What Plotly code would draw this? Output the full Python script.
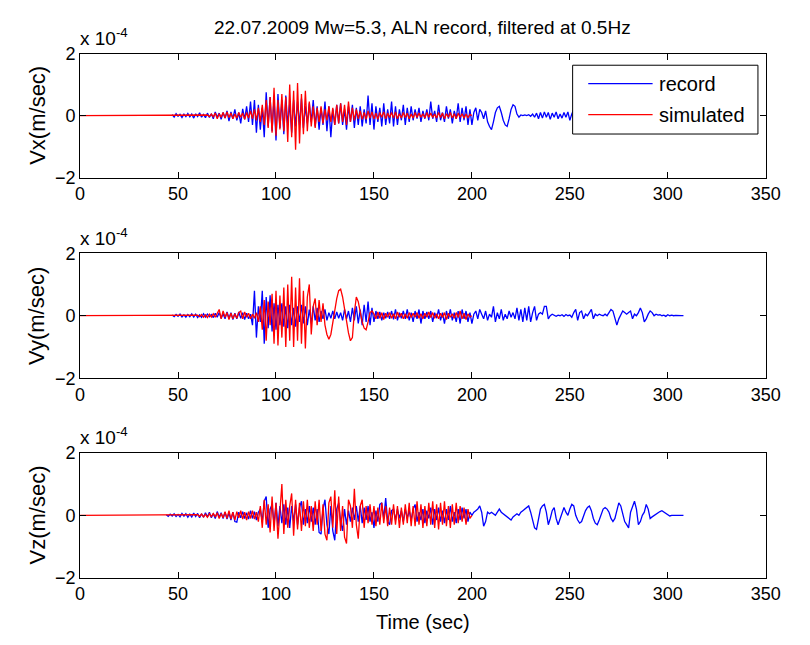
import numpy as np
import plotly.graph_objects as go

# ---------------- data (units of 1e-4 m/s), sampled every 1 s ----------------
dt = 1.0
ticks_x = [0, 50, 100, 150, 200, 250, 300, 350]
ticks_y = [-2, 0, 2]
panel_labels = ["Vx(m/sec)", "Vy(m/sec)", "Vz(m/sec)"]

vx_rec_t0 = 47
vx_rec = [0.03,-0.05,0.06,-0.02,0.04,-0.06,0.05,-0.03,0.07,-0.04,
          0.05,-0.08,0.06,-0.03,0.09,-0.05,0.04,-0.07,0.08,-0.06,
          0.06,-0.1,0.12,-0.05,0.08,-0.12,0.1,-0.08,0.15,-0.18,
          0.12,-0.1,0.2,-0.15,0.1,-0.25,0.22,-0.12,0.3,-0.2,
          0.45,-0.3,0.5,-0.55,0.35,-0.45,0.25,-0.7,0.75,-0.35,
          0.6,-0.5,0.55,-0.8,0.7,-0.4,0.5,-0.6,0.65,-0.3,
          0.4,-0.55,0.5,-0.35,0.45,-0.3,0.55,-0.4,0.3,-0.25,
          0.4,-0.2,0.5,-0.35,0.3,-0.45,0.25,-0.3,0.45,-0.5,
          0.3,-0.7,0.2,-0.3,0.35,-0.25,0.4,-0.3,0.2,-0.45,
          0.3,-0.2,0.35,-0.4,0.25,-0.3,0.3,-0.35,0.2,-0.25,
          0.65,-0.3,0.4,-0.45,0.3,-0.2,0.25,-0.35,0.4,-0.3,
          0.2,-0.25,0.45,-0.35,0.3,-0.3,0.2,-0.15,0.35,-0.3,
          0.25,-0.2,0.3,-0.15,0.2,-0.1,0.25,-0.2,0.15,-0.1,
          0.2,-0.15,0.45,-0.1,0.15,-0.2,0.35,-0.15,0.1,-0.2,
          0.3,-0.1,0.2,-0.25,0.15,-0.1,0.4,-0.2,0.25,-0.15,
          0.3,-0.3,0.2,-0.3,0.1,0.25,-0.15,0.2,0.1,-0.1,
          0.15,-0.2,-0.35,-0.45,-0.2,0.1,0.25,0.3,0.1,-0.15,
          -0.3,-0.35,-0.1,0.2,0.35,0.3,0.05,-0.05,0.02,0.0,
          0.02,0.0,0.03,-0.02,0.05,-0.05,0.08,-0.1,0.1,-0.08,
          0.12,-0.05,0.1,-0.12,0.08,-0.05,0.12,-0.1,0.05,-0.08,
          0.1,-0.05,0.12,-0.15,0.05,0.2,0.1,-0.1,0.15,-0.1,
          0.1,-0.15,0.2,-0.1,0.1,-0.2,0.15,-0.1,0.2,-0.15,
          0.1,-0.1,0.15,-0.2,0.1,-0.05,0.15,-0.1,0.1,-0.15,
          0.1,-0.1,0.15,-0.1,0.05,-0.1,0.1,-0.05,0.1,-0.1,
          0.05,-0.1,0.1,-0.05,0.08,-0.05,0.1,-0.05,0.05,-0.05,
          0.05,-0.03,0.04,-0.03,0.03,-0.02,0.03,-0.02,0.02,-0.01,
          0.01,0.0]

vx_sim_t0 = 65
vx_sim = [0.02,-0.03,0.05,-0.04,0.08,-0.1,0.06,-0.05,0.1,-0.08,
          0.12,-0.06,0.08,-0.1,0.05,-0.08,0.1,-0.05,0.08,-0.12,
          0.1,-0.08,0.15,-0.1,0.2,-0.15,0.25,-0.2,0.35,-0.3,
          0.5,-0.4,0.6,-0.55,0.9,-0.65,0.5,-0.45,0.7,-0.5,
          0.6,-0.85,1.0,-0.7,0.8,-1.1,1.05,-0.9,0.7,-0.6,
          0.8,-0.5,0.45,-0.35,0.3,-0.4,0.25,-0.2,0.3,-0.25,
          0.2,-0.15,0.3,-0.2,0.25,-0.3,0.35,-0.25,0.4,-0.2,
          0.35,-0.3,0.45,-0.2,0.25,-0.15,0.2,-0.1,0.15,-0.12,
          0.1,-0.12,0.15,-0.08,0.12,-0.1,0.08,-0.12,0.1,-0.05,
          0.12,-0.1,0.08,-0.06,0.1,-0.08,0.12,-0.1,0.06,-0.08,
          0.1,-0.06,0.08,-0.1,0.05,-0.08,0.1,-0.06,0.08,-0.05,
          0.06,-0.08,0.1,-0.05,0.08,-0.06,0.05,-0.08,0.1,-0.06,
          0.08,-0.1,0.06,-0.05,0.1,-0.08,0.06,-0.1,0.08,-0.05,
          0.06,-0.08,0.05,-0.06,0.04,0.0]

vy_rec_t0 = 47
vy_rec = [0.02,-0.03,0.04,-0.02,0.05,-0.04,0.03,-0.05,0.04,-0.03,
          0.06,-0.04,0.05,-0.06,0.03,-0.05,0.06,-0.04,0.05,-0.03,
          0.04,-0.06,0.08,-0.05,0.1,-0.08,0.06,-0.1,0.12,-0.08,
          0.1,-0.12,0.08,-0.1,0.12,-0.08,0.1,-0.12,0.08,-0.1,
          0.05,-0.3,0.8,-0.7,0.3,-0.2,0.8,-0.9,0.6,-0.4,
          0.65,-0.5,0.4,-0.45,0.35,-0.3,0.4,-0.35,0.3,-0.4,
          0.35,-0.3,0.25,-0.35,0.3,-0.2,0.35,-0.25,0.3,-0.3,
          0.2,-0.25,0.3,-0.15,0.25,-0.2,0.15,-0.1,0.2,-0.15,
          0.1,-0.08,0.15,-0.1,0.12,-0.08,0.1,-0.15,0.2,-0.1,
          0.15,-0.2,0.25,-0.15,0.3,-0.25,0.2,-0.3,0.35,-0.2,
          0.45,-0.3,0.25,-0.2,0.15,-0.1,0.12,-0.15,0.1,-0.08,
          0.12,-0.1,0.15,-0.12,0.2,-0.15,0.1,-0.08,0.15,-0.1,
          0.2,-0.15,0.1,-0.2,0.15,-0.1,0.2,-0.25,0.15,-0.1,
          0.12,-0.1,0.15,-0.2,0.1,-0.08,0.2,-0.15,0.1,-0.25,
          0.15,-0.1,0.2,-0.15,0.1,-0.2,0.15,-0.25,0.2,-0.1,
          0.15,-0.2,0.1,-0.25,0.05,0.15,-0.1,0.2,0.05,-0.1,
          0.15,-0.15,0.05,-0.05,0.3,-0.2,0.1,-0.1,0.2,-0.15,
          0.05,-0.1,0.15,-0.05,0.1,-0.1,0.25,-0.15,0.2,-0.2,
          0.25,-0.15,0.3,-0.2,0.1,0.3,-0.15,0.05,0.1,0.05,
          0.3,0.3,-0.1,0.0,0.05,0.0,-0.02,0.02,0.0,0.03,
          -0.02,0.04,0.0,0.02,-0.05,0.1,0.2,-0.15,0.1,0.15,
          -0.1,0.05,0.0,0.1,0.2,-0.1,0.05,0.0,0.05,0.02,
          0.0,0.05,0.0,0.1,0.2,0.15,-0.1,-0.3,-0.1,0.05,
          0.15,0.1,0.05,0.1,0.15,-0.1,0.05,0.0,0.1,0.25,
          0.1,-0.2,-0.1,0.05,0.15,0.1,0.0,0.05,0.02,0.03,
          0.0,0.02,-0.02,0.03,0.0,0.02,0.0,0.01,0.0,0.0,
          0.0,0.0]

vy_sim_t0 = 60
vy_sim = [0.02,-0.03,0.04,-0.05,0.03,-0.06,0.05,-0.04,0.06,-0.05,
          0.08,0.2,-0.1,0.15,-0.05,0.1,-0.12,0.08,-0.1,0.06,
          -0.08,0.1,0.15,-0.1,0.12,-0.05,0.08,-0.1,0.05,-0.08,
          0.1,-0.2,0.3,-0.45,0.5,-0.8,0.45,-0.3,0.7,-0.9,
          0.8,-0.95,0.65,-0.7,0.9,-1.0,1.0,-0.8,1.25,-1.0,
          0.9,-0.8,1.2,-0.9,0.8,-1.05,0.6,1.0,-0.6,0.3,
          0.55,-0.3,0.5,-0.2,0.4,-0.3,-0.6,-0.75,-0.6,-0.2,
          0.2,0.55,0.8,0.85,0.6,0.2,-0.2,-0.55,-0.8,-0.7,
          0.1,0.6,0.45,0.1,-0.2,-0.4,-0.45,-0.2,0.1,0.15,
          0.05,-0.1,0.12,-0.08,0.1,-0.12,0.08,-0.05,0.1,-0.08,
          0.06,-0.1,0.12,-0.05,0.08,-0.1,0.06,-0.08,0.1,-0.06,
          0.08,-0.05,0.1,-0.08,0.06,-0.1,0.08,-0.05,0.12,-0.06,
          0.1,-0.08,0.06,-0.1,0.08,-0.06,0.1,-0.12,0.08,-0.05,
          0.06,-0.08,0.1,-0.06,0.15,-0.1,0.08,-0.12,0.06,-0.04,
          0.0]

vz_rec_t0 = 44
vz_rec = [0.02,-0.03,0.04,-0.02,0.05,-0.04,0.03,-0.05,0.06,-0.03,
          0.05,-0.06,0.04,-0.05,0.07,-0.04,0.06,-0.08,0.05,-0.06,
          0.08,-0.05,0.1,-0.08,0.06,-0.1,0.12,-0.06,0.08,-0.1,
          0.1,-0.12,0.08,-0.15,0.1,-0.2,-0.22,0.1,-0.08,0.12,
          -0.1,0.08,-0.12,0.15,-0.1,0.12,-0.15,0.1,0.2,-0.2,
          0.45,0.6,-0.4,0.2,0.35,-0.3,0.4,-0.35,0.3,-0.25,
          0.35,-0.3,0.25,-0.4,0.3,-0.2,0.35,-0.3,0.25,0.45,
          -0.3,0.2,-0.25,0.3,-0.2,0.25,-0.3,0.2,-0.55,-0.6,
          0.2,0.5,-0.3,-0.6,0.3,-0.5,-0.8,0.2,0.4,-0.2,
          -0.5,0.2,-0.3,0.15,-0.2,0.25,-0.15,0.3,-0.2,0.3,
          -0.25,0.25,-0.15,0.3,-0.2,0.1,-0.4,0.15,-0.2,0.35,
          0.4,-0.1,0.55,-0.2,-0.3,0.15,0.2,-0.15,0.2,-0.1,
          0.15,-0.2,0.2,-0.1,0.15,-0.15,0.2,0.35,-0.2,0.1,
          -0.15,0.2,-0.25,0.15,-0.1,0.25,-0.3,0.2,-0.15,0.25,
          -0.2,0.15,-0.25,0.2,-0.15,0.3,-0.2,0.1,-0.25,0.2,
          -0.15,0.25,-0.1,0.2,-0.2,0.1,0.0,0.1,0.15,0.2,
          0.3,0.1,-0.35,-0.2,0.1,0.05,0.1,0.05,0.0,0.1,
          0.2,0.1,0.05,0.0,-0.05,-0.1,-0.15,-0.05,0.0,0.05,
          0.0,0.1,0.15,0.2,0.25,0.3,0.1,-0.2,-0.4,-0.45,
          -0.1,0.2,0.3,0.35,0.1,-0.3,-0.1,0.15,0.25,-0.1,
          -0.3,-0.1,0.1,0.25,0.1,0.0,0.2,0.35,0.3,0.0,
          -0.15,-0.25,-0.2,0.0,0.15,0.25,0.3,0.15,-0.1,-0.25,
          -0.3,-0.15,0.05,0.2,0.25,0.2,0.1,-0.1,-0.2,-0.1,
          0.15,0.4,0.3,0.0,-0.2,-0.3,-0.4,0.1,0.3,0.45,
          0.2,-0.3,-0.2,0.0,0.1,0.35,0.2,-0.1,-0.05,0.0,
          0.05,0.1,0.12,0.15,0.1,0.05,0.0,-0.02,0.0,0.01,
          0.0,0.0,0.0,0.0,0.0]

vz_sim_t0 = 60
vz_sim = [0.02,-0.03,0.04,-0.05,0.03,-0.06,0.05,-0.04,0.06,-0.05,
          0.08,-0.1,0.06,-0.08,0.12,-0.1,0.15,-0.12,0.1,-0.15,
          0.12,-0.08,0.15,-0.12,0.1,-0.15,0.12,-0.1,0.15,-0.12,
          0.1,-0.2,0.3,-0.4,0.5,-0.3,0.35,-0.55,0.6,-0.5,
          0.4,-0.75,0.3,1.0,-0.6,0.5,-0.4,0.3,0.7,-0.65,
          0.5,-0.45,0.4,-0.5,0.45,-0.35,0.5,-0.4,0.3,-0.5,
          0.45,-0.3,0.5,-0.5,0.35,-0.6,-0.8,0.4,0.6,-0.4,
          0.8,-0.6,0.6,-0.5,0.3,-0.7,-0.9,0.5,0.3,-0.4,
          0.85,-0.3,-0.75,0.3,0.5,-0.4,0.3,-0.25,0.35,-0.3,
          0.3,-0.35,0.25,-0.3,0.4,-0.25,0.3,-0.35,0.25,-0.3,
          0.35,-0.3,0.3,-0.4,0.25,-0.3,0.35,-0.25,0.4,-0.35,
          0.3,-0.35,0.45,-0.3,0.35,-0.4,0.3,-0.35,0.4,-0.3,
          0.45,-0.4,0.35,-0.45,0.4,-0.3,0.45,-0.35,0.3,-0.4,
          0.35,-0.3,0.4,-0.25,0.3,-0.2,0.25,-0.3,0.2,-0.1,
          0.0]

records = [(vx_rec_t0, vx_rec), (vy_rec_t0, vy_rec), (vz_rec_t0, vz_rec)]
sims = [(vx_sim_t0, vx_sim), (vy_sim_t0, vy_sim), (vz_sim_t0, vz_sim)]

# ---------------- figure ----------------
W, H = 810, 645
FONT = "Liberation Sans, Arial, sans-serif"
x0px, x1px = 77, 780
panels_px = [(45, 173), (251, 380), (457, 586)]

fig = go.Figure()
for i in range(3):
    xa = "x" if i == 0 else f"x{i+1}"
    ya = "y" if i == 0 else f"y{i+1}"
    t0, vals = records[i]
    tr = t0 + dt * np.arange(len(vals))
    fig.add_trace(go.Scatter(x=tr, y=vals, mode="lines", xaxis=xa, yaxis=ya,
                             line=dict(color="#0000ff", width=1.3), showlegend=False,
                             hoverinfo="skip"))
    s0, svals = sims[i]
    ts = np.concatenate([[0.0], s0 + dt * np.arange(len(svals))])
    sv = [0.0] + list(svals)
    fig.add_trace(go.Scatter(x=ts, y=sv, mode="lines", xaxis=xa, yaxis=ya,
                             line=dict(color="#ff0000", width=1.3), showlegend=False,
                             hoverinfo="skip"))

layout = dict(width=W, height=H, margin=dict(l=0, r=0, t=0, b=0),
              paper_bgcolor="white", plot_bgcolor="white",
              font=dict(family=FONT, size=17, color="black"), showlegend=False)
for i, (top, bot) in enumerate(panels_px):
    xk = "xaxis" if i == 0 else f"xaxis{i+1}"
    yk = "yaxis" if i == 0 else f"yaxis{i+1}"
    ya = "y" if i == 0 else f"y{i+1}"
    xa = "x" if i == 0 else f"x{i+1}"
    layout[xk] = dict(domain=[x0px / W, x1px / W], anchor=ya, range=[0, 350],
                      tickvals=ticks_x, ticks="inside", ticklen=6, tickcolor="black",
                      showline=True, linecolor="black", linewidth=1, mirror="allticks",
                      showgrid=False, zeroline=False, tickfont=dict(size=18),
                      fixedrange=True)
    layout[yk] = dict(domain=[(H - bot) / H, (H - top) / H], anchor=xa, range=[-2, 2],
                      tickvals=ticks_y, ticks="inside", ticklen=6, tickcolor="black",
                      showline=True, linecolor="black", linewidth=1, mirror="allticks",
                      showgrid=False, zeroline=False, tickfont=dict(size=18),
                      fixedrange=True)
fig.update_layout(**layout)

ann = []
ann.append(dict(text="22.07.2009 Mw=5.3, ALN record, filtered at 0.5Hz", x=(x0px + x1px) / 2 / W,
                y=(H - 18) / H, xref="paper", yref="paper", showarrow=False,
                font=dict(size=19), xanchor="center", yanchor="middle"))
for i, (top, bot) in enumerate(panels_px):
    ann.append(dict(text="x 10<sup>-4</sup>", x=(x0px - 2) / W, y=(H - (top - 17)) / H,
                    xref="paper", yref="paper", showarrow=False, xanchor="left",
                    yanchor="middle", font=dict(size=19)))
    ann.append(dict(text=panel_labels[i], x=33 / W, y=(H - (top + bot) / 2) / H,
                    xref="paper", yref="paper", showarrow=False, textangle=-90,
                    xanchor="center", yanchor="middle", font=dict(size=22)))
ann.append(dict(text="Time (sec)", x=(x0px + x1px) / 2 / W, y=(H - 632) / H,
                xref="paper", yref="paper", showarrow=False, xanchor="center",
                yanchor="middle", font=dict(size=20)))

# legend drawn in the top panel (box, line samples, labels)
lx0, lx1, ly0, ly1 = 582, 772, 57, 128
shapes = [dict(type="rect", xref="paper", yref="paper", x0=lx0 / W, x1=lx1 / W,
               y0=(H - ly1) / H, y1=(H - ly0) / H, line=dict(color="black", width=1),
               fillcolor="white", layer="above")]
for name, col, yy in [("record", "#0000ff", 76), ("simulated", "#ff0000", 108)]:
    shapes.append(dict(type="line", xref="paper", yref="paper", x0=598 / W, x1=664 / W,
                       y0=(H - yy) / H, y1=(H - yy) / H, line=dict(color=col, width=1.3),
                       layer="above"))
    ann.append(dict(text=name, x=669 / W, y=(H - yy) / H, xref="paper", yref="paper",
                    showarrow=False, xanchor="left", yanchor="middle", font=dict(size=20)))
fig.update_layout(annotations=ann, shapes=shapes)

fig.write_html("out.html")
